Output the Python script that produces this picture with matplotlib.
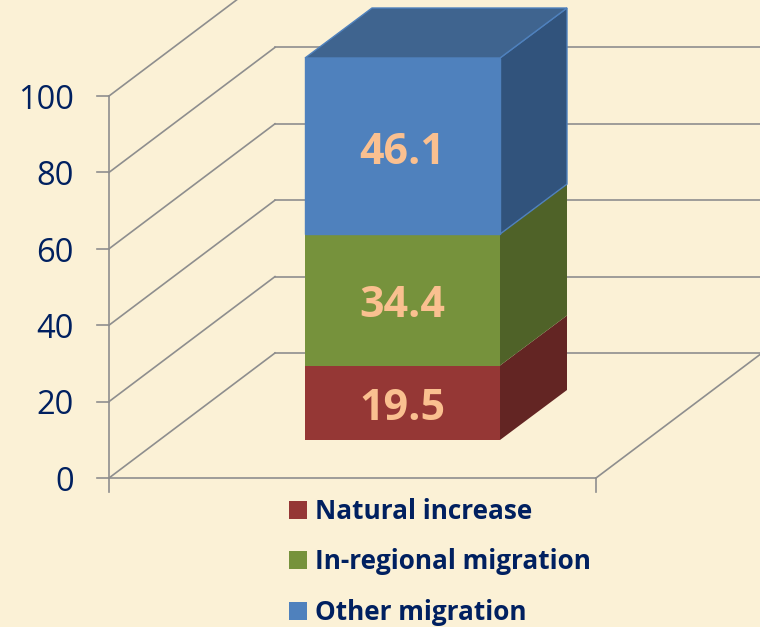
import matplotlib
matplotlib.use('Agg')
import matplotlib.pyplot as plt
from matplotlib.patches import Polygon, Rectangle

plt.rcParams['font.family'] = ['Open Sans', 'DejaVu Sans']

categories = ['Natural increase', 'In-regional migration', 'Other migration']
values = [19.5, 34.4, 46.1]
ticks = [0, 20, 40, 60, 80, 100]

front = ['#953735', '#76923c', '#4f81bd']
side = ['#632523', '#4f6228', '#31537c']
top = '#3f648f'
edge = '#4f81bd'
navy = '#002060'
grid = '#8e8e8e'
bg = '#fbf1d6'

W, H = 760, 627
PX = 3.82  # pixels per unit of value
Y0 = 478   # pixel row of value 0 on the front edge


def py(v, depth_px=0):
    # value -> y in axes coords, depth moves up the picture
    return v + depth_px / PX


fig = plt.figure(figsize=(W / 100, H / 100), dpi=100, facecolor=bg)
ax = fig.add_axes([0, 0, 1, 1])
ax.set_xlim(0, W)
ax.set_ylim(-(H - Y0) / PX, Y0 / PX)
ax.axis('off')

# walls
wall_x0, wall_x1 = 109, 275
floor_x1 = 596
d = 125
for t in ticks:
    ax.plot([wall_x0, wall_x1], [py(t), py(t, d)], color=grid, lw=1.2, zorder=1)
    ax.plot([wall_x1, W + 5], [py(t, d), py(t, d)], color=grid, lw=1.2, zorder=1)
    ax.plot([wall_x0 - 12, wall_x0], [py(t), py(t)], color=grid, lw=1.2, zorder=1)
    ax.text(74, py(t) - 1.1, str(t), color=navy, fontsize=23.5, ha='right', va='center')
ax.plot([wall_x0, wall_x0], [py(0), py(100)], color=grid, lw=1.2, zorder=1)
ax.plot([wall_x0, wall_x0], [py(0), py(0, -14)], color=grid, lw=1.2, zorder=1)
ax.plot([wall_x0, floor_x1], [py(0), py(0)], color=grid, lw=1.2, zorder=1)
ax.plot([floor_x1, floor_x1], [py(0), py(0, -14)], color=grid, lw=1.2, zorder=1)
ax.plot([floor_x1, floor_x1 + 166], [py(0), py(0, d)], color=grid, lw=1.2, zorder=1)

# stacked bar
bar_x0, bar_x1 = 305, 500
lift = 38
dx, dy = 67, 50
base = 0
for i, (name, v, cf, cs) in enumerate(zip(categories, values, front, side)):
    ec = edge if i == 2 else 'none'
    ax.add_patch(Polygon([(bar_x1, py(base, lift)), (bar_x1 + dx, py(base, lift + dy)),
                          (bar_x1 + dx, py(base + v, lift + dy)), (bar_x1, py(base + v, lift))],
                         fc=cs, ec=ec, lw=1, zorder=2))
    ax.add_patch(Rectangle((bar_x0, py(base, lift)), bar_x1 - bar_x0, v, fc=cf, ec=ec, lw=1, zorder=3))
    ax.text((bar_x0 + bar_x1) / 2, py(base + v / 2, lift) - 1.6, f'{v}', color='#fac090',
            fontsize=31, fontweight='bold', ha='center', va='center', zorder=4)
    base += v
ax.add_patch(Polygon([(bar_x0, py(base, lift)), (bar_x1, py(base, lift)),
                      (bar_x1 + dx, py(base, lift + dy)), (bar_x0 + dx, py(base, lift + dy))],
                     fc=top, ec=edge, lw=1, zorder=3))

# legend
leg_rows = [510, 560, 611]
for name, cf, row in zip(categories, front, leg_rows):
    v = (Y0 - row) / PX
    ax.add_patch(Rectangle((289, v - 9 / PX), 18, 18 / PX, fc=cf, ec='none'))
    ax.text(315, v - 0.4, name, color=navy, fontsize=18.8, fontweight='bold', ha='left', va='center')

fig.savefig('out.png', dpi=100, facecolor=bg)
